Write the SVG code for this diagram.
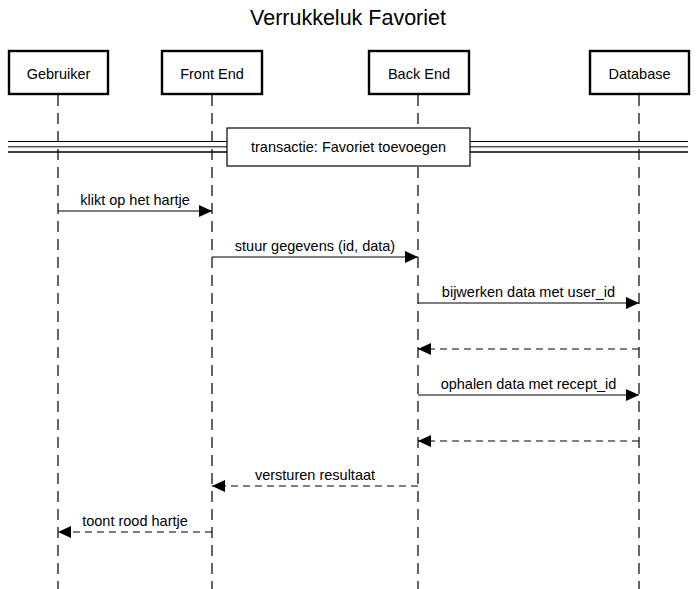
<svg xmlns="http://www.w3.org/2000/svg" width="696" height="589" viewBox="0 0 696 589">
<defs>
<style>
text{font-family:"Liberation Sans",Arial,sans-serif;fill:#000}
.t{font-size:14.5px;text-anchor:middle}
.box{fill:#fff;stroke:#000;stroke-width:2.4}
.life{stroke:#000;stroke-width:1.2;stroke-dasharray:11 7;fill:none}
.msg{stroke:#000;stroke-width:1.2;fill:none;marker-end:url(#ah)}
.ret{stroke:#000;stroke-width:1.2;fill:none;stroke-dasharray:7 5;marker-end:url(#ah)}
.div{stroke:#000;fill:none}
</style>
<marker id="ah" viewBox="0 0 13 12" refX="13" refY="6" markerWidth="13" markerHeight="12" markerUnits="userSpaceOnUse" orient="auto">
<path d="M0,0 L13,6 L0,12 z" fill="#000"/>
</marker>
</defs>
<rect width="696" height="589" fill="#fff"/>
<text x="348" y="25" style="font-size:21.5px;text-anchor:middle">Verrukkeluk Favoriet</text>
<g id="lifelines">
<line class="life" x1="58" y1="95" x2="58" y2="589"/>
<line class="life" x1="212" y1="95" x2="212" y2="589"/>
<line class="life" x1="418" y1="95" x2="418" y2="589"/>
<line class="life" x1="639" y1="95" x2="639" y2="589"/>
</g>
<g id="node-gebruiker"><rect class="box" x="9" y="51" width="99" height="43"/><text class="t" x="58.5" y="79">Gebruiker</text></g>
<g id="node-frontend"><rect class="box" x="162" y="51" width="100" height="43"/><text class="t" x="212" y="79">Front End</text></g>
<g id="node-backend"><rect class="box" x="369" y="51" width="100" height="43"/><text class="t" x="419" y="79">Back End</text></g>
<g id="node-database"><rect class="box" x="590" y="51" width="99" height="43"/><text class="t" x="639.5" y="79">Database</text></g>
<g id="divider">
<line class="div" x1="8" y1="141.5" x2="227" y2="141.5" stroke-width="1.2"/>
<line class="div" x1="8" y1="146.8" x2="227" y2="146.8" stroke-width="1"/>
<line class="div" x1="8" y1="152" x2="227" y2="152" stroke-width="1.6"/>
<line class="div" x1="470" y1="141.5" x2="688" y2="141.5" stroke-width="1.2"/>
<line class="div" x1="470" y1="146.8" x2="688" y2="146.8" stroke-width="1"/>
<line class="div" x1="470" y1="152" x2="688" y2="152" stroke-width="1.6"/>
</g>
<g id="node-transactie"><rect x="227" y="128" width="243" height="38" fill="#fff" stroke="#000" stroke-width="1.2"/><text class="t" x="348.5" y="152">transactie: Favoriet toevoegen</text></g>
<g id="connectors">
<line class="msg" x1="58" y1="211" x2="212" y2="211"/>
<text class="t" x="135" y="204.5">klikt op het hartje</text>
<line class="msg" x1="212" y1="257" x2="418" y2="257"/>
<text class="t" x="315" y="250.5">stuur gegevens (id, data)</text>
<line class="msg" x1="418" y1="303" x2="639" y2="303"/>
<text class="t" x="528.5" y="296.5">bijwerken data met user_id</text>
<line class="ret" x1="639" y1="349" x2="418" y2="349"/>
<line class="msg" x1="418" y1="395" x2="639" y2="395"/>
<text class="t" x="528.5" y="388.5">ophalen data met recept_id</text>
<line class="ret" x1="639" y1="441" x2="418" y2="441"/>
<line class="ret" x1="418" y1="486" x2="212" y2="486"/>
<text class="t" x="315" y="479.5">versturen resultaat</text>
<line class="ret" x1="212" y1="532" x2="58" y2="532"/>
<text class="t" x="135" y="525.5">toont rood hartje</text>
</g>
</svg>
